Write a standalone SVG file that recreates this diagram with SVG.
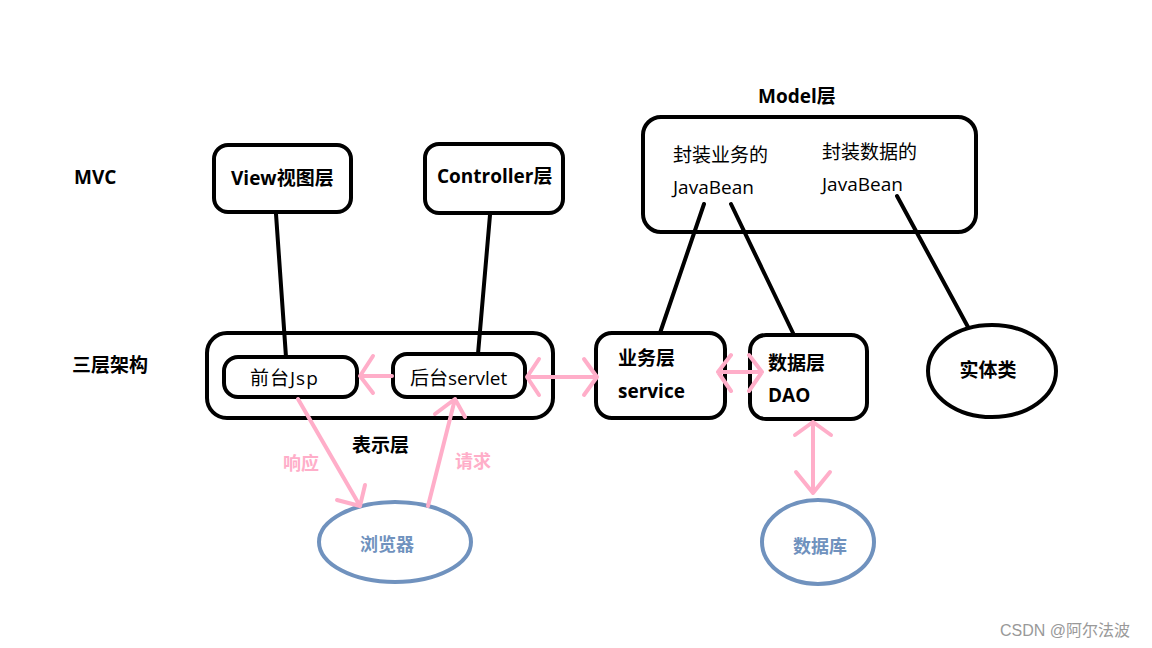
<svg xmlns="http://www.w3.org/2000/svg" width="1152" height="648" viewBox="0 0 1152 648">
<style>
text{font-family:"Open Sans","Noto Sans CJK SC",sans-serif;}
.b{font-weight:bold;font-size:19px;fill:#000;}
.n{font-size:19px;fill:#000;}
.box{fill:#fff;stroke:#000;stroke-width:4;}
.ln{stroke:#000;stroke-width:4;fill:none;stroke-linecap:round;}
.pk{stroke:#ffaec9;stroke-width:4;fill:none;stroke-linecap:round;stroke-linejoin:round;}
.pt{font-weight:bold;font-size:18px;fill:#ffaec9;}
.bl{fill:#fff;stroke:#7092be;stroke-width:4;}
.bt{font-weight:bold;font-size:18px;fill:#7092be;}
</style>
<rect width="1152" height="648" fill="#fff"/>
<text class="b" x="74" y="184">MVC</text>
<text class="b" x="72" y="372">三层架构</text>
<text class="b" x="758" y="103">Model层</text>
<text class="b" x="352" y="452">表示层</text>

<g id="view"><rect class="box" x="214" y="145" width="137" height="67" rx="14"/><text class="b" x="231" y="185">View视图层</text></g>
<g id="controller"><rect class="box" x="425" y="144" width="138" height="69" rx="14"/><text class="b" x="437" y="183">Controller层</text></g>
<g id="model"><rect class="box" x="643" y="117" width="333" height="115" rx="18"/>
<text class="n" x="673" y="162">封装业务的</text><text class="n" x="673" y="194">JavaBean</text>
<text class="n" x="822" y="159">封装数据的</text><text class="n" x="822" y="191">JavaBean</text></g>
<g id="presentation"><rect class="box" x="207" y="333" width="346" height="85" rx="20"/></g>
<g id="jsp"><rect class="box" x="224" y="357" width="133" height="40" rx="14"/><text class="n" x="250" y="385" letter-spacing="1">前台Jsp</text></g>
<g id="servlet"><rect class="box" x="393" y="354" width="132" height="43" rx="14"/><text class="n" x="410" y="385">后台servlet</text></g>
<g id="service"><rect class="box" x="596" y="333" width="129" height="85" rx="16"/><text class="b" x="618" y="365">业务层</text><text class="b" x="618" y="398">service</text></g>
<g id="dao"><rect class="box" x="750" y="335" width="117" height="84" rx="16"/><text class="b" x="768" y="370">数据层</text><text class="b" x="768" y="402">DAO</text></g>
<g id="entity"><ellipse class="box" cx="992" cy="371" rx="64" ry="46"/><text class="b" x="988" y="377" text-anchor="middle">实体类</text></g>
<g id="browser"><ellipse class="bl" cx="395" cy="542" rx="76" ry="40"/><text class="bt" x="387" y="551" text-anchor="middle">浏览器</text></g>
<g id="database"><ellipse class="bl" cx="818" cy="542" rx="56" ry="42"/><text class="bt" x="820" y="553" text-anchor="middle">数据库</text></g>

<g id="connectors">
<line class="ln" x1="276" y1="214" x2="286" y2="357"/>
<line class="ln" x1="490" y1="215" x2="478" y2="354"/>
<line class="ln" x1="704" y1="204" x2="660" y2="333"/>
<line class="ln" x1="731" y1="204" x2="793" y2="333"/>
<line class="ln" x1="897" y1="196" x2="968" y2="327"/>
<path class="pk" d="M392 376 H360 M373 356 L360 376 L373 393"/>
<path class="pk" d="M527 377 H597 M539 359 L527 377 L539 395 M584 359 L597 377 L584 395"/>
<path class="pk" d="M718 372 H762 M731 355 L718 372 L731 391 M749 355 L762 372 L749 391"/>
<path class="pk" d="M813 422 V493 M795 435 L813 422 L831 435 M796 472 L813 493 L830 472"/>
<path class="pk" d="M298 399 L360 506 M337 500 L360 506 L365 485"/>
<path class="pk" d="M428 506 L455 399 M435 414 L455 399 L465 417"/>
</g>
<text class="pt" x="283" y="470">响应</text>
<text class="pt" x="455" y="468">请求</text>
<text x="1000" y="636" style="font-family:'Liberation Sans','Noto Sans CJK SC',sans-serif;font-size:16px;fill:#999">CSDN @阿尔法波</text>
</svg>
